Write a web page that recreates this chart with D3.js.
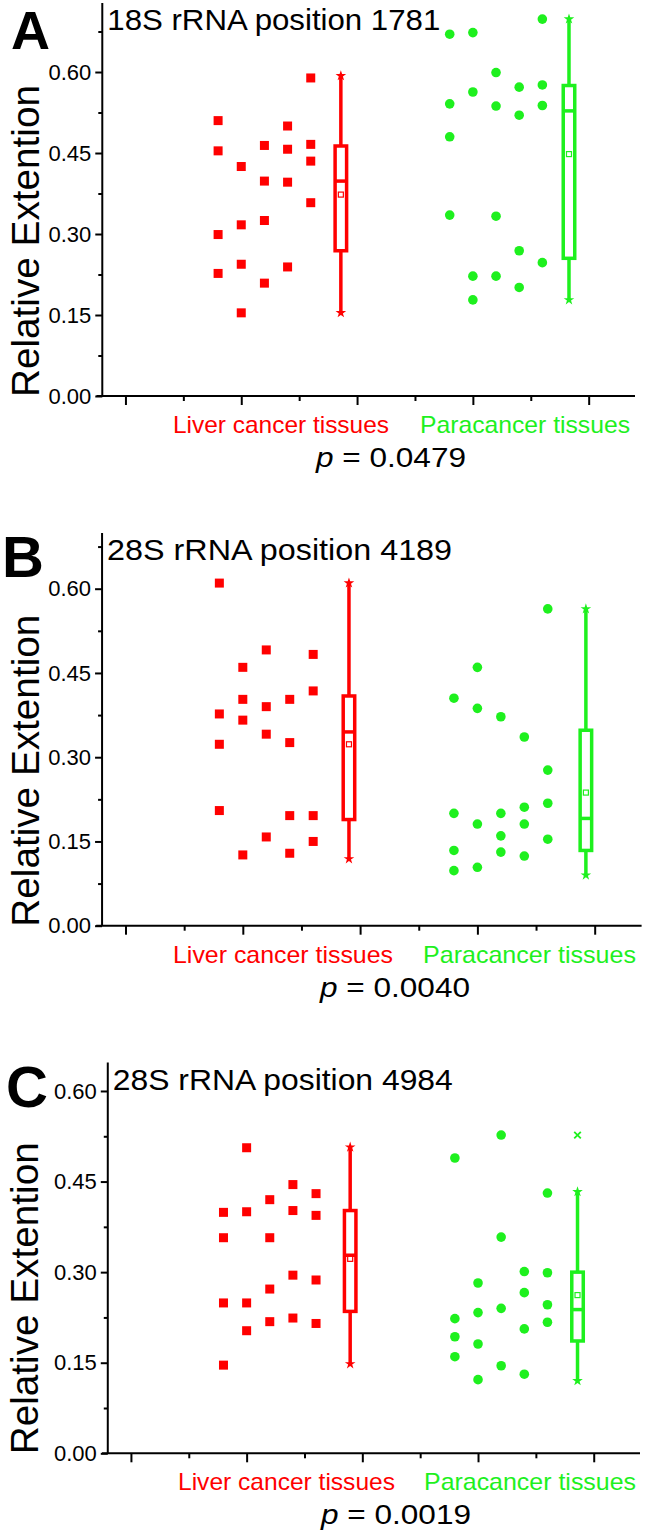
<!DOCTYPE html>
<html><head><meta charset="utf-8">
<script src="https://cdn.jsdelivr.net/npm/d3@7"></script>
<style>body{margin:0;background:#fff}svg{display:block}text{font-family:"Liberation Sans",Arial,sans-serif}</style>
</head><body><svg id="chart" width="645" height="1536"></svg>
<script>
// ---------- data ----------
const panelLetters = ["A", "B", "C"];
const titles = ["18S rRNA position 1781", "28S rRNA position 4189", "28S rRNA position 4984"];
const categories = ["Liver cancer tissues", "Paracancer tissues"];
const pValues = ["0.0479", "0.0040", "0.0019"];
const yLabel = "Relative Extention";
const yTicks = [0, 0.15, 0.30, 0.45, 0.60];
const yMinorTicks = [0.075, 0.225, 0.375, 0.525, 0.675];
const xMajorTicks = [0, 1, 2, 3, 4];
const xMinorTicks = [0.5, 1.5, 2.5, 3.5];
const liverColumnX = [0.8, 1.0, 1.2, 1.4, 1.6];
const paraColumnX = [2.8, 3.0, 3.2, 3.4, 3.6];

// values per column (5 columns x 4 samples)
const liverA = [[0.510, 0.454, 0.299, 0.227], [0.425, 0.317, 0.244, 0.154], [0.464, 0.398, 0.325, 0.209], [0.500, 0.457, 0.396, 0.239], [0.589, 0.466, 0.435, 0.358]];
const paraA = [[0.670, 0.541, 0.480, 0.335], [0.673, 0.563, 0.222, 0.178], [0.599, 0.537, 0.333, 0.222], [0.572, 0.520, 0.269, 0.201], [0.698, 0.576, 0.538, 0.247]];
const liverB = [[0.610, 0.377, 0.323, 0.205], [0.460, 0.403, 0.366, 0.126], [0.491, 0.390, 0.341, 0.158], [0.403, 0.326, 0.196, 0.129], [0.483, 0.418, 0.196, 0.150]];
const paraB = [[0.405, 0.200, 0.134, 0.098], [0.460, 0.387, 0.181, 0.104], [0.372, 0.200, 0.160, 0.131], [0.336, 0.211, 0.181, 0.124], [0.564, 0.277, 0.218, 0.154]];
const liverC = [[0.399, 0.357, 0.249, 0.146], [0.506, 0.400, 0.249, 0.203], [0.420, 0.357, 0.272, 0.218], [0.445, 0.402, 0.295, 0.224], [0.430, 0.394, 0.287, 0.215]];
const paraC = [[0.489, 0.223, 0.193, 0.160], [0.282, 0.233, 0.181, 0.122], [0.527, 0.358, 0.240, 0.145], [0.301, 0.266, 0.206, 0.131], [0.431, 0.299, 0.246, 0.217]];

// box statistics: [q1, median, q3, mean, whiskerLow, whiskerHigh]
const boxLiverA = [0.269, 0.398, 0.463, 0.373, 0.154, 0.593];
const boxParaA = [0.255, 0.528, 0.575, 0.448, 0.178, 0.698];
const boxLiverB = [0.189, 0.345, 0.409, 0.323, 0.119, 0.610];
const boxParaB = [0.134, 0.191, 0.348, 0.237, 0.090, 0.564];
const boxLiverC = [0.235, 0.328, 0.402, 0.322, 0.148, 0.507];
const boxParaC = [0.186, 0.238, 0.300, 0.262, 0.120, 0.433];
const outliersParaC = [0.527];
const boxX = [[1.86, 3.83], [1.905, 3.925], [1.895, 3.86]];
const yMax = [0.728, 0.699, 0.647];

const liverData = [liverA, liverB, liverC];
const paraData = [paraA, paraB, paraC];
const liverBoxes = [boxLiverA, boxLiverB, boxLiverC];
const paraBoxes = [boxParaA, boxParaB, boxParaC];
const paraOutliers = [[], [], outliersParaC];

// ---------- layout ----------
const RED = "#ff0000", GREEN = "#1ef01e";
const layout = [
  { xr: [96.5, 635], yr: [396, 2.9], letterX: 11, letterDy: 46, titleLen: 333, yLabX: 39, catX: [173, 420], catLen: [216, 210], pX: 391 },
  { xr: [96.2, 641.6], yr: [925.7, 533.1], letterX: 2, letterDy: 44, titleLen: 345, yLabX: 39, catX: [173, 423], catLen: [220, 213], pX: 395 },
  { xr: [102, 640], yr: [1453.3, 1062.6], letterX: 6, letterDy: 44, titleLen: 340, yLabX: 38, catX: [178, 424], catLen: [217, 212], pX: 396 }
];

const svg = d3.select("#chart");

layout.forEach((L, i) => {
  const x = d3.scaleLinear().domain([-0.25, 4.4]).range(L.xr);
  const y = d3.scaleLinear().domain([0, yMax[i]]).range(L.yr);
  const g = svg.append("g");
  const axisX = x(-0.2);
  const y0 = y(0);

  // y axis
  const ya = g.append("g").attr("transform", `translate(${axisX},0)`)
    .call(d3.axisLeft(y).tickValues(yTicks).tickFormat(d3.format(".2f")).tickSize(7).tickPadding(4));
  ya.select(".domain").attr("d", `M0,${y.range()[1]}V${y0}`).attr("stroke-width", 2);
  ya.selectAll(".tick line").attr("stroke-width", 2);
  ya.selectAll(".tick text").attr("font-size", 22).attr("fill", "#000").attr("font-family", "Liberation Sans, Arial, sans-serif");
  const yMinor = g.append("g").attr("transform", `translate(${axisX},0)`)
    .call(d3.axisLeft(y).tickValues(yMinorTicks.filter(v => v <= yMax[i])).tickFormat("").tickSize(4));
  yMinor.select(".domain").remove();
  yMinor.selectAll(".tick line").attr("stroke-width", 2);

  // x axis
  const xa = g.append("g").attr("transform", `translate(0,${y0})`)
    .call(d3.axisBottom(x).tickValues(xMajorTicks).tickFormat("").tickSize(9));
  xa.select(".domain").attr("d", `M${x.range()[0]},0H${x.range()[1]}`).attr("stroke-width", 2);
  xa.selectAll(".tick line").attr("stroke-width", 2);
  const xMinor = g.append("g").attr("transform", `translate(0,${y0})`)
    .call(d3.axisBottom(x).tickValues(xMinorTicks).tickFormat("").tickSize(5));
  xMinor.select(".domain").remove();
  xMinor.selectAll(".tick line").attr("stroke-width", 2);

  // panel letter & title
  g.append("text").attr("x", L.letterX).attr("y", y.range()[1] + L.letterDy)
    .attr("font-size", i === 0 ? 54 : 58).attr("font-weight", "bold").text(panelLetters[i]);
  g.append("text").attr("x", axisX + 5).attr("y", y.range()[1] + 27)
    .attr("font-size", 29).attr("textLength", L.titleLen).attr("lengthAdjust", "spacingAndGlyphs").text(titles[i]);

  // y label
  g.append("text").attr("transform", `translate(${L.yLabX},${y0 + 1}) rotate(-90)`)
    .attr("font-size", 39).attr("textLength", 312).attr("lengthAdjust", "spacingAndGlyphs").text(yLabel);

  // category labels
  [RED, GREEN].forEach((c, k) => {
    g.append("text").attr("x", L.catX[k]).attr("y", y0 + 37).attr("fill", c)
      .attr("font-size", 24).attr("textLength", L.catLen[k]).attr("lengthAdjust", "spacingAndGlyphs").text(categories[k]);
  });

  // p value
  const pt = g.append("text").attr("x", L.pX).attr("y", y0 + 71).attr("text-anchor", "middle")
    .attr("font-size", 27).attr("textLength", 150).attr("lengthAdjust", "spacingAndGlyphs");
  pt.append("tspan").attr("font-style", "italic").text("p");
  pt.append("tspan").text(" = " + pValues[i]);

  // points
  const liverPts = liverData[i].flatMap((col, c) => col.map(v => ({ x: liverColumnX[c], v })));
  const paraPts = paraData[i].flatMap((col, c) => col.map(v => ({ x: paraColumnX[c], v })));
  const s = 9;
  g.selectAll(".sq").data(liverPts).join("rect")
    .attr("x", d => x(d.x) - s / 2).attr("y", d => y(d.v) - s / 2)
    .attr("width", s).attr("height", s).attr("fill", RED);
  g.selectAll(".ci").data(paraPts).join("circle")
    .attr("cx", d => x(d.x)).attr("cy", d => y(d.v)).attr("r", 4.8).attr("fill", GREEN);

  // boxes
  [[liverBoxes[i], RED, boxX[i][0]], [paraBoxes[i], GREEN, boxX[i][1]]].forEach(([b, c, bx]) => {
    const [q1, med, q3, mean, lo, hi] = b;
    const cx = x(bx), w = 11.5;
    g.append("line").attr("x1", cx).attr("x2", cx).attr("y1", y(hi)).attr("y2", y(q3)).attr("stroke", c).attr("stroke-width", 3.5);
    g.append("line").attr("x1", cx).attr("x2", cx).attr("y1", y(q1)).attr("y2", y(lo)).attr("stroke", c).attr("stroke-width", 3.5);
    g.append("rect").attr("x", cx - w / 2).attr("y", y(q3)).attr("width", w).attr("height", y(q1) - y(q3))
      .attr("fill", "#fff").attr("stroke", c).attr("stroke-width", 3.5);
    g.append("line").attr("x1", cx - w / 2).attr("x2", cx + w / 2).attr("y1", y(med)).attr("y2", y(med)).attr("stroke", c).attr("stroke-width", 3.5);
    g.append("rect").attr("x", cx - 2.5).attr("y", y(mean) - 2.5).attr("width", 5).attr("height", 5)
      .attr("fill", "#fff").attr("stroke", c).attr("stroke-width", 1.2);
    [lo, hi].forEach(v => {
      g.append("path").attr("d", d3.symbol(d3.symbolStar, 35)()).attr("transform", `translate(${cx},${y(v)})`).attr("fill", c);
    });
  });
  // outliers
  paraOutliers[i].forEach(v => {
    const cx = x(boxX[i][1]);
    g.append("path").attr("d", d3.symbol(d3.symbolX, 30)()).attr("transform", `translate(${cx},${y(v)})`)
      .attr("stroke", GREEN).attr("stroke-width", 1.8).attr("fill", "none");
  });
});
</script></body></html>
